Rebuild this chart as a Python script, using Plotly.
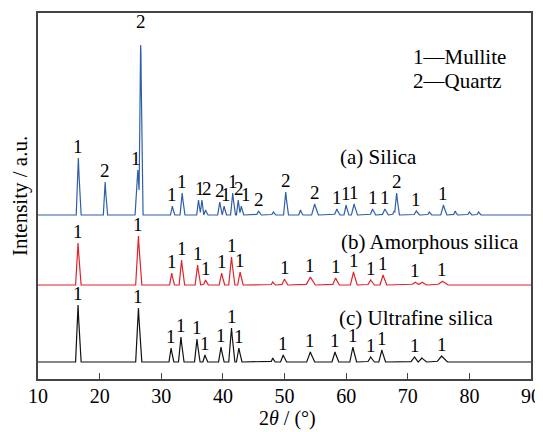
import numpy as np
import plotly.graph_objects as go

# ---- data (2theta in degrees, intensity in arbitrary units) ----
two_theta_range = [10, 90]
x_ticks = [10, 20, 30, 40, 50, 60, 70, 80, 90]

# (a) Silica
a_baseline = 164
a_pos = [16.55, 20.9, 26.2, 26.67, 31.8, 33.4, 36.05, 36.6, 37.2, 39.5, 40.2, 41.6, 42.5, 43.0,
         45.8, 48.2, 50.2, 52.6, 54.9, 58.5, 60.0, 61.3, 64.3, 66.3, 67.8, 68.2, 71.4, 73.5,
         75.8, 77.7, 80.0, 81.5]
a_height = [57, 33, 45, 182, 9, 22, 15, 15, 5, 13, 9, 22, 15, 9,
            4, 3, 23, 5, 11, 6, 10, 11, 6, 6, 4, 22, 4, 3,
            10, 4, 3, 3]
a_width = [0.35, 0.3, 0.45, 0.3, 0.3, 0.35, 0.3, 0.3, 0.3, 0.35, 0.3, 0.35, 0.3, 0.3,
           0.35, 0.3, 0.35, 0.3, 0.5, 0.4, 0.35, 0.45, 0.4, 0.45, 0.3, 0.35, 0.4, 0.3,
           0.45, 0.3, 0.3, 0.3]
a_label = ["1", "2", "1", "2", "1", "1", "1", "2", "", "2", "1", "1", "2", "1",
           "2", "", "2", "", "2", "1", "1", "1", "1", "1", "", "2", "1", "",
           "1", "", "", ""]

# (b) Amorphous silica
b_baseline = 94
b_pos = [16.5, 26.3, 31.7, 33.3, 35.9, 37.2, 39.8, 41.4, 42.8, 48.1, 50.0, 54.2, 58.3, 61.2,
         64.0, 66.0, 71.2, 72.3, 75.6]
b_height = [42, 49, 12, 25, 20, 5, 12, 28, 13, 3, 6, 8, 7, 13, 5, 10, 3, 3, 4]
b_width = [0.4, 0.45, 0.35, 0.4, 0.4, 0.35, 0.4, 0.45, 0.4, 0.3, 0.45, 0.7, 0.5, 0.5,
           0.5, 0.5, 0.6, 0.6, 0.8]
b_label = ["1", "1", "1", "1", "1", "1", "1", "1", "1", "", "1", "1", "1", "1",
           "1", "1", "1", "", "1"]

# (c) Ultrafine silica
c_baseline = 17
c_pos = [16.5, 26.3, 31.6, 33.2, 35.8, 37.1, 39.7, 41.4, 42.6, 48.1, 49.8, 54.2, 58.2, 61.1,
         64.0, 65.8, 71.1, 72.3, 75.5]
c_height = [57, 54, 14, 25, 23, 7, 15, 34, 14, 4, 7, 10, 10, 15, 5, 12, 5, 4, 6]
c_width = [0.4, 0.45, 0.35, 0.4, 0.4, 0.35, 0.4, 0.45, 0.4, 0.3, 0.45, 0.6, 0.5, 0.5,
           0.5, 0.5, 0.6, 0.6, 0.8]
c_label = ["1", "1", "1", "1", "1", "1", "1", "1", "1", "", "1", "1", "1", "1",
           "1", "1", "1", "", "1"]

sample_names = ["(a) Silica", "(b) Amorphous silica", "(c) Ultrafine silica"]
phase_legend = ["1—Mullite", "2—Quartz"]
x_title = "2<i>θ</i> / (°)"
y_title = "Intensity / a.u."

# ---- build profiles from the read peak lists ----
grid = np.round(np.arange(10, 90.0001, 0.05), 3)


def profile(base, pos, height, width):
    y = np.zeros_like(grid)
    for p, h, w in zip(pos, height, width):
        tri = h * np.clip(1 - np.abs(grid - p) / w, 0, None)
        y = np.maximum(y, tri)
    return base + y


series = [
    (a_baseline, a_pos, a_height, a_width, a_label, "#2f5ea8"),
    (b_baseline, b_pos, b_height, b_width, b_label, "#e0222b"),
    (c_baseline, c_pos, c_height, c_width, c_label, "#111111"),
]

FONT = "'Times New Roman', 'Liberation Serif', 'DejaVu Serif', serif"
fig = go.Figure()
annotations = []
label_xshift = {(0, 36.05): 1, (0, 36.6): 5, (0, 40.2): 2, (0, 42.5): 1, (0, 43.0): 5,
                (0, 26.2): -2}
for si, (base, pos, height, width, labels, color) in enumerate(series):
    fig.add_trace(go.Scatter(x=grid, y=profile(base, pos, height, width), mode="lines",
                             line=dict(color=color, width=1.2), showlegend=False,
                             hoverinfo="skip"))
    for p, h, lab in zip(pos, height, labels):
        if not lab:
            continue
        annotations.append(dict(x=p, y=base + h, text=lab, showarrow=False,
                                xanchor="center", yanchor="bottom", yshift=-1,
                                xshift=label_xshift.get((si, p), 0),
                                font=dict(family=FONT, size=19, color="black")))

# page geometry (the page body has an 8px margin, so the figure is offset by 8px)
OFF = 8
PAGE_W, PAGE_H = 543, 432
L, R, T, B = 38, 531, 13, 379          # plot area in page pixels


def px_to_paper(xx, yy):
    return (xx - L) / (R - L), (B - yy) / (B - T)


def add_text(txt, xx, yy, xanchor="left", size=21, angle=0):
    px, py = px_to_paper(xx, yy)
    an = dict(x=px, y=py, xref="paper", yref="paper", text=txt, showarrow=False,
              xanchor=xanchor, yanchor="middle",
              font=dict(family=FONT, size=size, color="black"))
    if angle:
        an["textangle"] = angle
    annotations.append(an)


for name, (xx, yy) in zip(sample_names, [(338, 157), (339, 242), (337, 318)]):
    add_text(name, xx, yy)
for txt, (xx, yy) in zip(phase_legend, [(411, 57), (411, 81)]):
    add_text(txt, xx, yy)
add_text(x_title, 287, 419, xanchor="center", size=20)
add_text(y_title, 20, 196, xanchor="center", angle=-90)

FW, FH = PAGE_W - OFF, PAGE_H - OFF
fig.update_layout(
    width=FW, height=FH,
    margin=dict(l=L - OFF, r=FW - (R - OFF), t=T - OFF, b=FH - (B - OFF), autoexpand=False),
    paper_bgcolor="white", plot_bgcolor="white",
    font=dict(family=FONT, size=19, color="black"),
    annotations=annotations,
    xaxis=dict(range=two_theta_range, tickvals=x_ticks, ticks="inside", ticklen=6,
               tickwidth=1.2, tickcolor="#444", showline=True, linecolor="#444",
               linewidth=1.5, mirror=True, showgrid=False, zeroline=False,
               ticklabelstandoff=-2,
               tickfont=dict(family=FONT, size=20)),
    yaxis=dict(range=[0, 366], showticklabels=False, ticks="", showline=True,
               linecolor="#444", linewidth=1.5, mirror=True, showgrid=False,
               zeroline=False),
)

fig.write_html("out.html")
